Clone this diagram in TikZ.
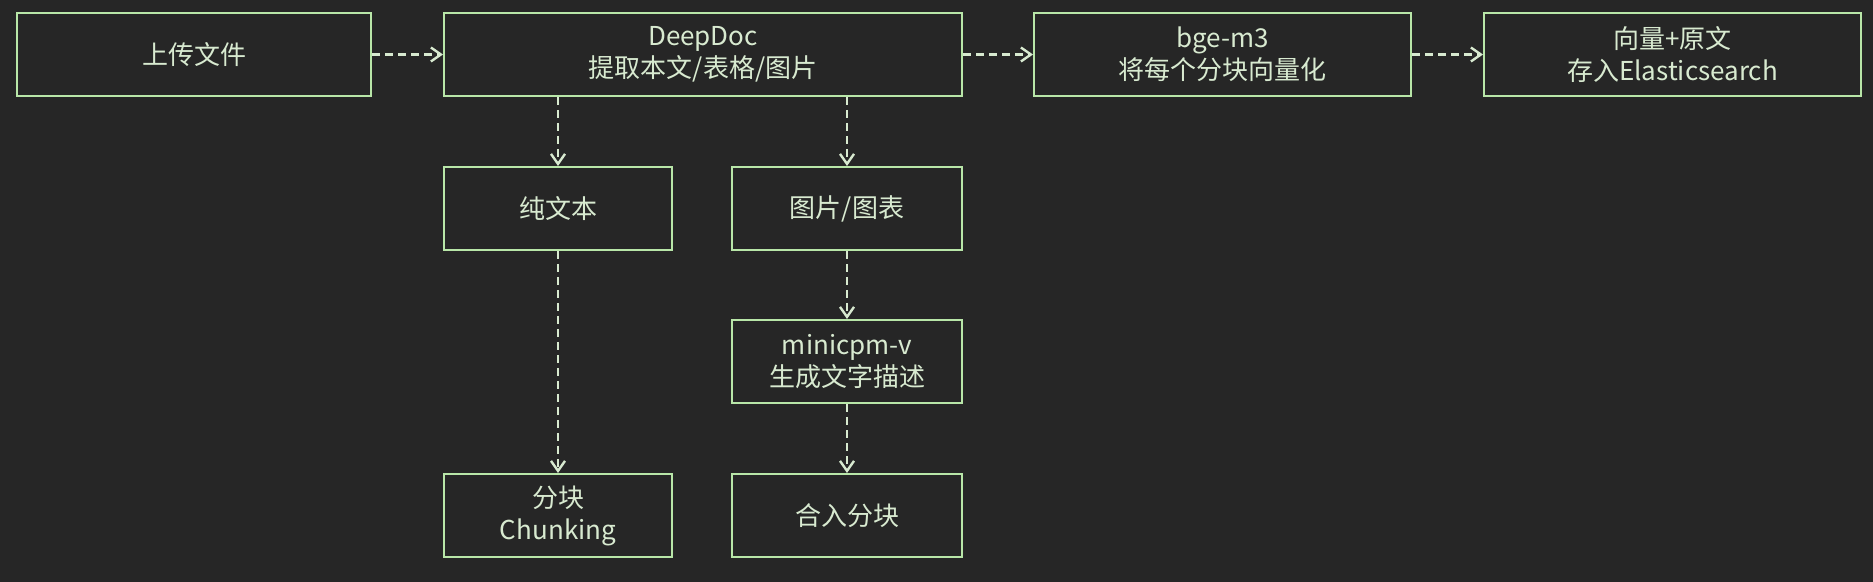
\documentclass[tikz,border=0pt]{standalone}
\usepackage{fontspec}
\setmainfont{Noto Sans CJK SC}
\usetikzlibrary{arrows.meta}
\definecolor{bg}{HTML}{262626}
\definecolor{edge}{HTML}{B8E6A8}
\definecolor{txt}{HTML}{D8EAD0}
\tikzset{
  box/.style={draw=edge, line width=1pt, text=txt, align=center, inner sep=0pt, font=\fontsize{13}{16}\selectfont},
  flow/.style={draw=txt, line width=1.2pt, dash pattern=on 4pt off 2.5pt, -{Straight Barb[length=5pt,width=7pt]}}
}
\newcommand{\boxat}[6]{\node[box, minimum width=(#4-#2)*0.5pt, minimum height=(#5-#3)*0.5pt] (#1) at ({(#2+#4)/2},{(#3+#5)/2}) {#6};}
\begin{document}
\begin{tikzpicture}[x=0.5pt,y=-0.5pt]
    \fill[bg] (0,0) rectangle (1873,582);
    \useasboundingbox (0,0) rectangle (1873,582);
    % top row
    \boxat{upload}{17}{13}{371}{96}{上传文件}
    \boxat{deepdoc}{444}{13}{962}{96}{DeepDoc\\提取本文/表格/图片}
    \boxat{bge}{1034}{13}{1411}{96}{bge-m3\\将每个分块向量化}
    \boxat{store}{1484}{13}{1861}{96}{向量+原文\\存入Elasticsearch}
    \draw[flow] (upload) -- (deepdoc);
    \draw[flow] (deepdoc) -- (bge);
    \draw[flow] (bge) -- (store);
    % left branch
    \boxat{plain}{444}{167}{672}{250}{纯文本}
    \boxat{chunk}{444}{474}{672}{557}{分块\\Chunking}
    \draw[flow] (plain.north |- deepdoc.south) -- (plain);
    \draw[flow] (plain) -- (chunk);
    % right branch
    \boxat{image}{732}{167}{962}{250}{图片/图表}
    \boxat{minicpm}{732}{320}{962}{403}{minicpm-v\\生成文字描述}
    \boxat{merge}{732}{474}{962}{557}{合入分块}
    \draw[flow] (image.north |- deepdoc.south) -- (image);
    \draw[flow] (image) -- (minicpm);
    \draw[flow] (minicpm) -- (merge);
\end{tikzpicture}
\end{document}
